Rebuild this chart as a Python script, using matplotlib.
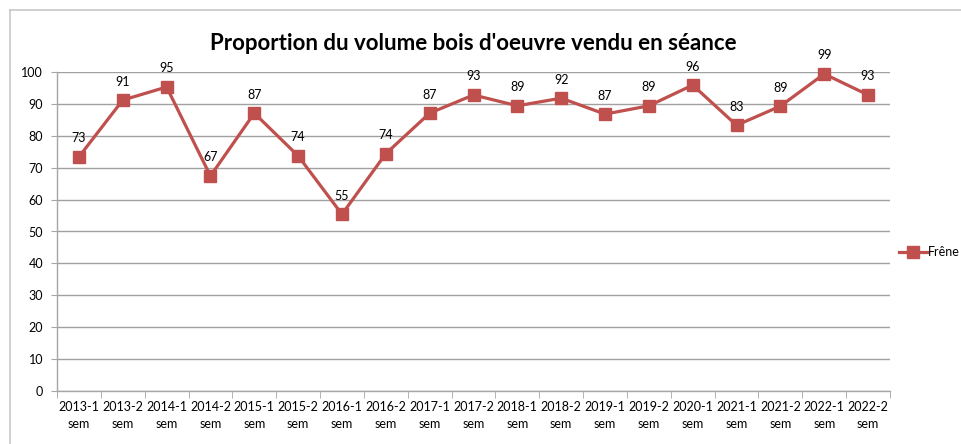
import matplotlib
matplotlib.use("Agg")
import matplotlib.pyplot as plt
from matplotlib.lines import Line2D

categories = ["2013-1\nsem", "2013-2\nsem", "2014-1\nsem", "2014-2\nsem", "2015-1\nsem",
              "2015-2\nsem", "2016-1\nsem", "2016-2\nsem", "2017-1\nsem", "2017-2\nsem",
              "2018-1\nsem", "2018-2\nsem", "2019-1\nsem", "2019-2\nsem", "2020-1\nsem",
              "2021-1\nsem", "2021-2\nsem", "2022-1\nsem", "2022-2\nsem"]
frene = [73.4, 91.2, 95.3, 67.4, 87.1, 73.7, 55.4, 74.4, 87.1, 92.8,
         89.4, 91.8, 86.8, 89.4, 95.9, 83.3, 89.3, 99.4, 92.8]
yticks = [0, 10, 20, 30, 40, 50, 60, 70, 80, 90, 100]

plt.rcParams['font.family'] = ['Lato', 'DejaVu Sans']
color = '#C0504D'

fig = plt.figure(figsize=(9.61, 4.44), dpi=100)
ax = fig.add_axes([57/961, 1-391/444, (890-57)/961, (391-72)/444])

x = list(range(len(categories)))
ax.plot(x, frene, color=color, lw=2.3, marker='s', markersize=8,
        markeredgecolor=color, markerfacecolor=color, zorder=3, clip_on=False)
for xi, v in zip(x, frene):
    ax.annotate(f"{round(v)}", (xi, v), xytext=(0, 9), textcoords='offset points',
                ha='center', va='bottom', fontsize=9, color='#000000')

ax.set_xlim(-0.5, len(categories) - 0.5)
ax.set_ylim(0, 100)
ax.set_yticks(yticks)
ax.set_yticklabels([str(t) for t in yticks], fontsize=9)
ax.set_xticks(x)
ax.set_xticklabels(categories, fontsize=9, linespacing=1.5)
ax.set_xticks([i - 0.5 for i in range(len(categories) + 1)], minor=True)
ax.tick_params(axis='x', which='major', length=0, pad=7)
ax.tick_params(axis='x', which='minor', length=5, color='#A6A6A6', direction='out')
ax.tick_params(axis='y', length=4, color='#A6A6A6', pad=6)
ax.grid(axis='y', color='#A0A0A0', lw=1.0)
ax.set_axisbelow(True)
for s in ['top', 'right']:
    ax.spines[s].set_visible(False)
for s in ['left', 'bottom']:
    ax.spines[s].set_color('#A6A6A6')
    ax.spines[s].set_linewidth(1.0)

fig.text(473/961, 1-44/444, "Proportion du volume bois d'oeuvre vendu en séance",
         ha='center', va='center', fontsize=16, fontweight='bold')

# legend
handle = Line2D([], [], color=color, lw=2.3, marker='s', markersize=8)
fig.legend([handle], ['Frêne'], loc='center left', bbox_to_anchor=(893/961, 1-252/444),
           frameon=False, fontsize=9, handlelength=2.2, handletextpad=0.1, borderpad=0)

# outer chart border
fig.add_artist(Line2D([10/961, 10/961], [0, 1-10/444], transform=fig.transFigure,
                      color='#C8C8C8', lw=1.2))
fig.add_artist(Line2D([10/961, 1], [1-10/444, 1-10/444], transform=fig.transFigure,
                      color='#C8C8C8', lw=1.2))

fig.savefig("out.png", dpi=100)
